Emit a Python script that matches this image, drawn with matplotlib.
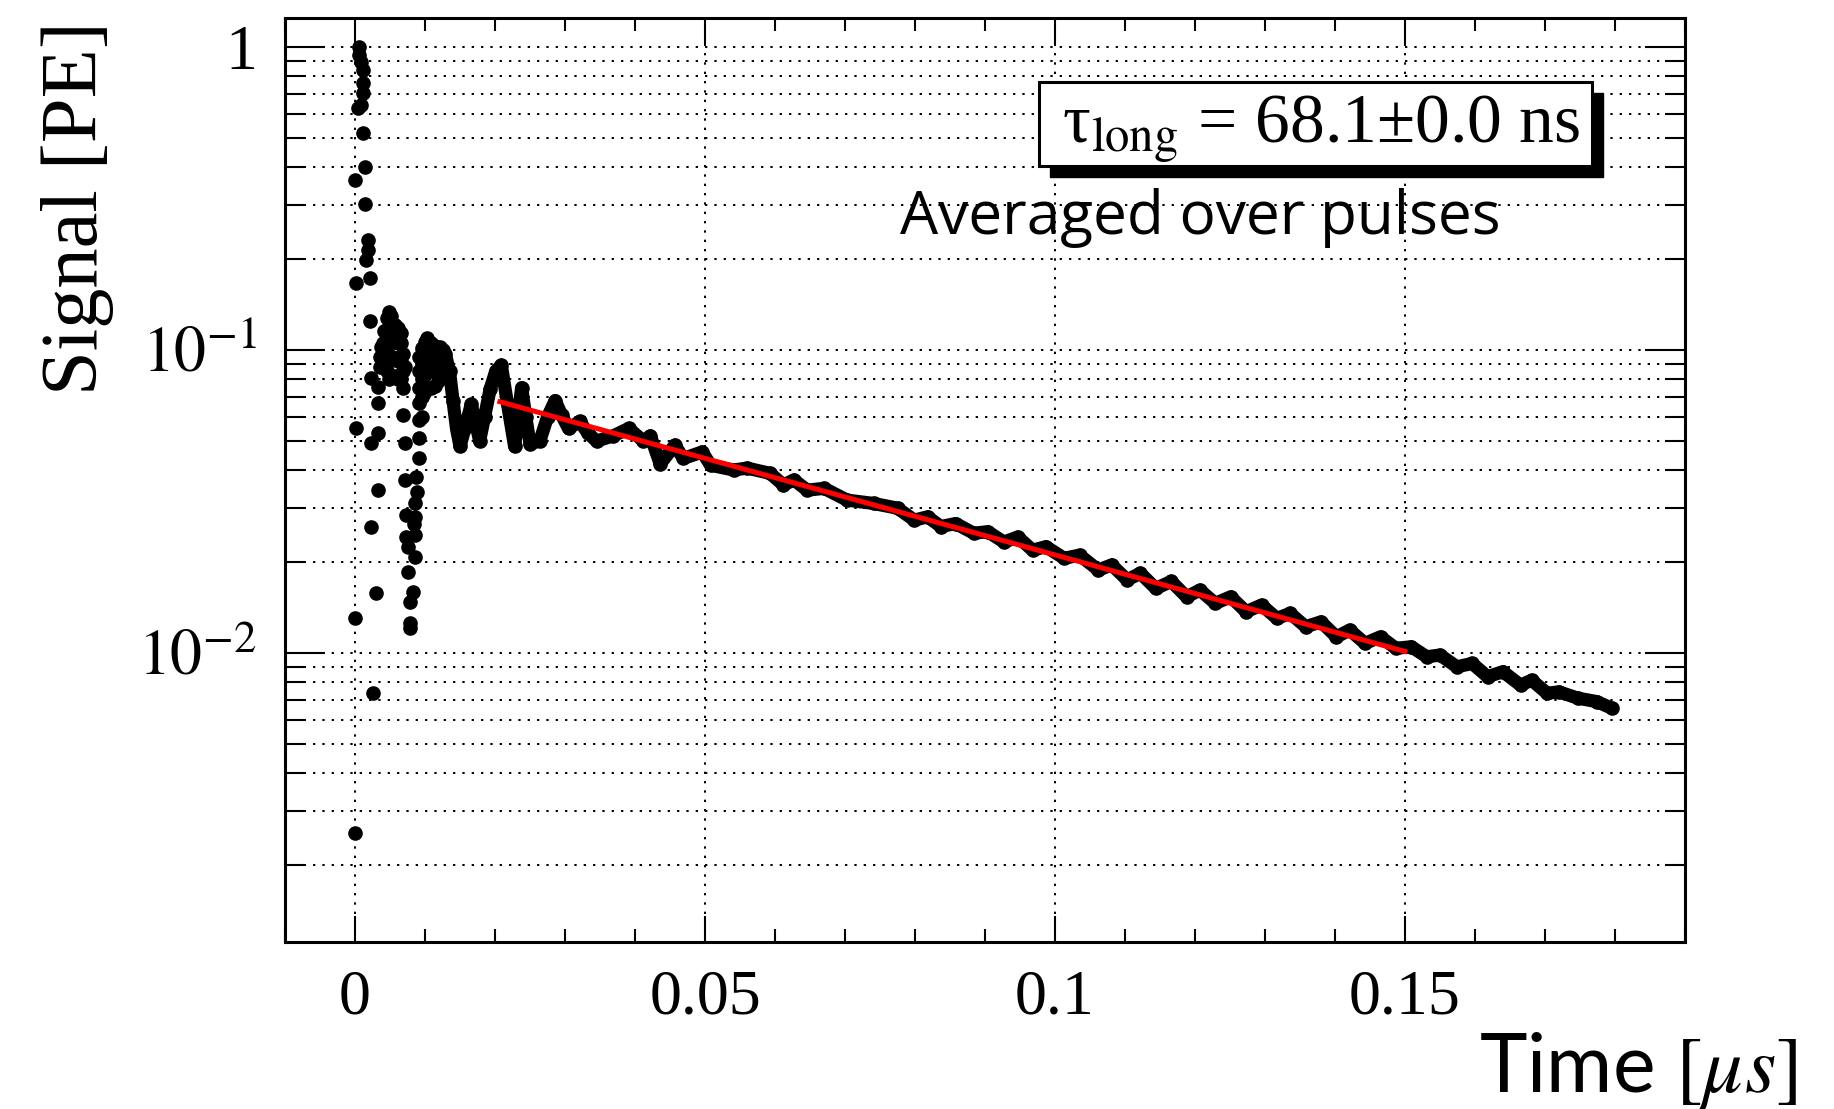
import numpy as np
import matplotlib
matplotlib.use('Agg')
import matplotlib.pyplot as plt
import matplotlib.ticker as ticker
from matplotlib.patches import Rectangle

plt.rcParams['mathtext.fontset'] = 'stix'
plt.rcParams['font.family'] = ['Liberation Serif', 'DejaVu Serif']

## Data (time in us, signal in PE)
# isolated samples of the prompt peak
peak_pts = [
    (0.0000, 0.00254), (0.0000, 0.0130), (0.0002, 0.0551), (0.0002, 0.166),
    (0.0000, 0.363), (0.0004, 0.626), (0.0006, 1.00), (0.0006, 0.94),
    (0.0009, 0.89), (0.0011, 0.84), (0.0011, 0.757), (0.0011, 0.702),
    (0.0009, 0.642), (0.0011, 0.518), (0.0014, 0.402), (0.0014, 0.304),
    (0.0018, 0.230), (0.0018, 0.213), (0.0016, 0.198), (0.0021, 0.172),
    (0.0021, 0.124), (0.0023, 0.0806), (0.0033, 0.0753), (0.0033, 0.0665),
    (0.0033, 0.053), (0.0023, 0.0491), (0.0033, 0.0344), (0.0023, 0.0261),
    (0.0030, 0.0157), (0.0026, 0.00735),
]

# first dense cluster (~0.004-0.007 us)
cluster1_pts = [
    (0.0035, 0.088), (0.0035, 0.095), (0.0037, 0.102),
    (0.0040, 0.090), (0.0040, 0.105), (0.0042, 0.115),
    (0.0045, 0.085), (0.0045, 0.100), (0.0045, 0.115), (0.0046, 0.127),
    (0.0049, 0.080), (0.0049, 0.092), (0.0049, 0.105), (0.0049, 0.120), (0.0048, 0.133),
    (0.0053, 0.082), (0.0053, 0.095), (0.0053, 0.108), (0.0053, 0.122), (0.0052, 0.129),
    (0.0057, 0.082), (0.0057, 0.094), (0.0057, 0.107), (0.0057, 0.121),
    (0.0061, 0.080), (0.0061, 0.092), (0.0061, 0.105), (0.0061, 0.118),
    (0.0065, 0.080), (0.0065, 0.092), (0.0065, 0.105), (0.0065, 0.114),
    (0.0068, 0.0746), (0.0068, 0.0609), (0.0069, 0.085), (0.0069, 0.097),
    (0.0072, 0.088), (0.0071, 0.0491),
]

# dip between the clusters (~0.007-0.009 us)
dip_pts = [
    (0.0071, 0.0372), (0.0087, 0.0381), (0.0088, 0.0340), (0.0086, 0.0311),
    (0.0073, 0.0285), (0.0086, 0.0281), (0.0073, 0.0241), (0.0086, 0.0245),
    (0.0076, 0.0224), (0.0086, 0.0207), (0.0076, 0.0185), (0.0083, 0.0159),
    (0.0078, 0.0147), (0.0078, 0.0125), (0.0078, 0.0121), (0.0084, 0.0266),
]

# second dense cluster (~0.009-0.013 us)
cluster2_pts = [
    (0.0091, 0.0438), (0.0091, 0.051), (0.0091, 0.0587), (0.0091, 0.0665),
    (0.0091, 0.075), (0.0091, 0.085), (0.0092, 0.095),
    (0.0095, 0.060), (0.0095, 0.070), (0.0095, 0.080), (0.0095, 0.090), (0.0096, 0.101),
    (0.0099, 0.072), (0.0099, 0.082), (0.0099, 0.092), (0.0100, 0.106),
    (0.0104, 0.075), (0.0104, 0.085), (0.0104, 0.095), (0.0103, 0.109),
    (0.0109, 0.075), (0.0109, 0.085), (0.0109, 0.095), (0.0109, 0.105),
    (0.0114, 0.076), (0.0114, 0.086), (0.0114, 0.095), (0.0114, 0.103),
    (0.0119, 0.079), (0.0119, 0.088), (0.0119, 0.097), (0.0121, 0.102),
    (0.0124, 0.083), (0.0124, 0.092), (0.0125, 0.100),
]

# the continuous trace (dense samples drawn as a thick band)
trace_t = [0.0129, 0.0135, 0.0140, 0.0145, 0.0150, 0.0157, 0.0166, 0.0172, 0.0178,
           0.0185, 0.0193, 0.0201, 0.0209, 0.0218, 0.0228, 0.0233, 0.0238, 0.0244,
           0.0250, 0.0264, 0.0275, 0.0286, 0.0295, 0.0305, 0.0321, 0.0333, 0.0345,
           0.0369, 0.0391, 0.0412, 0.0422, 0.0436, 0.0457, 0.0469, 0.0496, 0.0508,
           0.0541, 0.0560, 0.0593, 0.0612, 0.0627, 0.0646, 0.0670, 0.0703, 0.0741,
           0.0775, 0.0799, 0.0818, 0.0837, 0.0858, 0.0884, 0.0904, 0.0927, 0.0947,
           0.0968, 0.0987, 0.1013, 0.1035, 0.1062, 0.1081, 0.1103, 0.1122, 0.1144,
           0.1166, 0.1188, 0.1207, 0.1229, 0.1251, 0.1273, 0.1295, 0.1317, 0.1336,
           0.1358, 0.1380, 0.1402, 0.1421, 0.1443, 0.1465, 0.1487, 0.1509, 0.1531,
           0.1550, 0.1574, 0.1596, 0.1618, 0.1640, 0.1665, 0.1681, 0.1703, 0.1720,
           0.1747, 0.1774, 0.1796]
trace_val = [0.097, 0.085, 0.068, 0.055, 0.048, 0.055, 0.066, 0.058, 0.050,
             0.060, 0.074, 0.085, 0.089, 0.066, 0.048, 0.060, 0.075, 0.060,
             0.049, 0.050, 0.060, 0.068, 0.061, 0.055, 0.058, 0.053, 0.050,
             0.052, 0.055, 0.050, 0.052, 0.042, 0.0485, 0.0438, 0.046, 0.0416,
             0.0401, 0.0407, 0.0391, 0.0358, 0.0372, 0.0344, 0.0349, 0.0319, 0.0311,
             0.0300, 0.0274, 0.0281, 0.0261, 0.0267, 0.0248, 0.0251, 0.0232, 0.0241,
             0.0218, 0.0224, 0.0205, 0.0210, 0.01875, 0.0195, 0.0174, 0.0183, 0.0163,
             0.0172, 0.0153, 0.0161, 0.01456, 0.0153, 0.01366, 0.01437, 0.01299, 0.01349,
             0.01219, 0.01265, 0.01129, 0.01188, 0.01074, 0.01129, 0.01034, 0.01047, 0.00970,
             0.00983, 0.00899, 0.00922, 0.00834, 0.00866, 0.00782, 0.00812, 0.00735, 0.00743,
             0.00708, 0.00690, 0.00655]

# exponential fit (straight on log axis), tau_long = 68.1 ns
fit_t = [0.0207, 0.1500]
fit_val = [0.0674, 0.0101]

ytick_vals = [1e-2, 1e-1, 1]
ytick_labels = ['$10^{-2}$', '$10^{-1}$', '1']
xtick_vals = [0, 0.05, 0.1, 0.15]
xtick_labels = ['0', '0.05', '0.1', '0.15']

W, H = 1834, 1109
fig = plt.figure(figsize=(W / 100, H / 100), dpi=100)
ax = fig.add_axes([285 / W, 1 - 942 / H, 1400 / W, 924 / H])
ax.set_yscale('log')
ax.set_xlim(-0.01, 0.19)
ax.set_ylim(1.11e-3, 1.245)

dot = dict(ls='none', marker='o', ms=9.5, color='black', mec='black', zorder=3)
for pts in (peak_pts, cluster1_pts, dip_pts, cluster2_pts):
    t, v = np.array(pts).T
    ax.plot(t, v, **dot)
ax.plot(trace_t, trace_val, '-', color='black', lw=9.5, solid_capstyle='round',
        solid_joinstyle='round', zorder=3)
ax.plot(trace_t, trace_val, **dot)
ax.plot(fit_t, fit_val, color='#ff0000', lw=3.6, zorder=5)

# ticks, ROOT style
ax.set_xticks(xtick_vals)
ax.set_xticklabels(xtick_labels)
ax.xaxis.set_minor_locator(ticker.MultipleLocator(0.01))
ax.set_yticks(ytick_vals)
ax.set_yticklabels(ytick_labels)
ax.yaxis.set_minor_locator(ticker.LogLocator(base=10, subs=np.arange(2, 10)))
ax.yaxis.set_minor_formatter(ticker.NullFormatter())
ax.tick_params(axis='both', which='both', direction='in', top=True, right=True,
               width=1.5, labelsize=46, pad=20)
ax.tick_params(axis='y', which='major', length=29)
ax.tick_params(axis='y', which='minor', length=14.5)
ax.tick_params(axis='x', which='major', length=19)
ax.tick_params(axis='x', which='minor', length=9.5)
for s in ax.spines.values():
    s.set_linewidth(2.2)

dotted = dict(color='black', lw=1.4, ls=(0, (1.2, 3.6)))
ax.grid(True, axis='y', which='both', **dotted)
ax.grid(True, axis='x', which='major', **dotted)
ax.set_axisbelow(True)

# labels
fig.text(78 / W, 1 - 208 / H, 'Signal [PE]', rotation=90, ha='center', va='center',
         fontsize=58)
fig.text(1797 / W, 1 - 1092 / H, r'Time $[\mu s]$', ha='right', va='baseline',
         fontsize=58, family=['Lato', 'DejaVu Sans'])

# fit result box with shadow
bx0, by0, bx1, by1 = 1039, 82, 1592, 166
fig.add_artist(Rectangle(((bx0 + 11) / W, 1 - (by1 + 11) / H), (bx1 - bx0) / W,
                         (by1 - by0) / H, transform=fig.transFigure,
                         facecolor='black', edgecolor='black', zorder=2))
fig.add_artist(Rectangle((bx0 / W, 1 - by1 / H), (bx1 - bx0) / W, (by1 - by0) / H,
                         transform=fig.transFigure, facecolor='white',
                         edgecolor='black', lw=2.2, zorder=2))
fig.text(1062 / W, 1 - 143 / H, 'τ$_{\\mathrm{long}}$ = 68.1±0.0 ns', va='baseline',
         ha='left', fontsize=50, zorder=4)
fig.text(900 / W, 1 - 234 / H, 'Averaged over pulses', ha='left', va='baseline',
         fontsize=43.5, family=['Open Sans', 'DejaVu Sans'], zorder=4)

fig.savefig('out.png', dpi=100)
